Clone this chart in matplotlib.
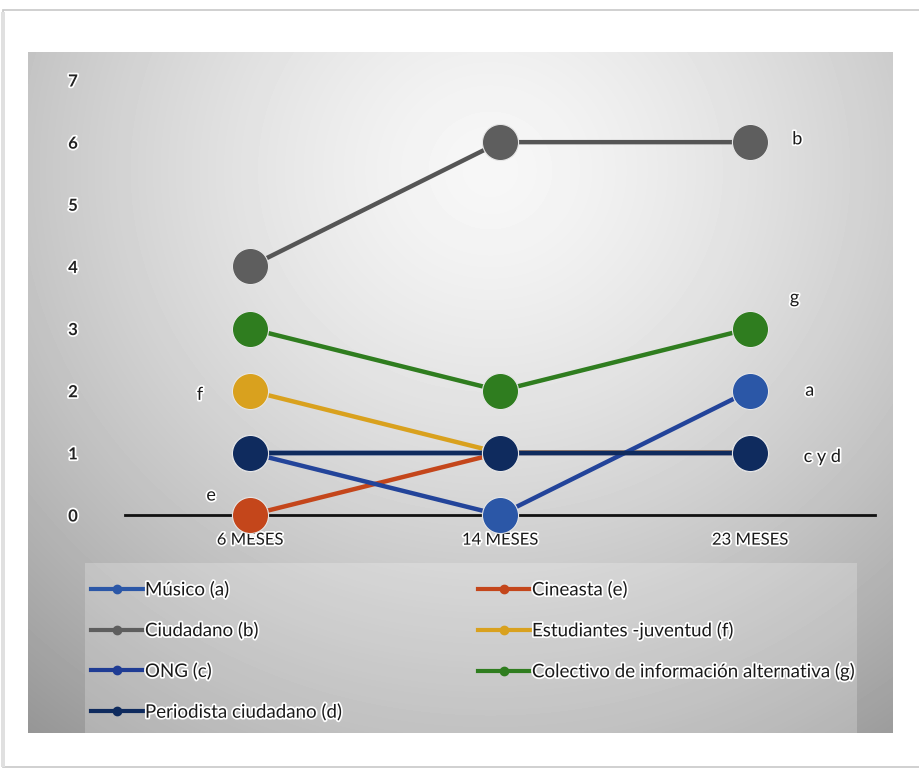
import numpy as np
import matplotlib.pyplot as plt
import matplotlib.patheffects as pe
from matplotlib.patches import Rectangle
from matplotlib.lines import Line2D

plt.rcParams['font.family'] = ['Lato', 'DejaVu Sans']

periodos = ['6 MESES', '14 MESES', '23 MESES']

musico = [1, 0, 2]
ciudadano = [4, 6, 6]
ong = [1, 1, 1]
periodista = [1, 1, 1]
cineasta = [0, 1, 1]
estudiantes = [2, 1, 1]
colectivo = [3, 2, 3]

nombres = ['Músico (a)', 'Ciudadano (b)', 'ONG (c)', 'Periodista ciudadano (d)',
           'Cineasta (e)', 'Estudiantes -juventud (f)',
           'Colectivo de información alternativa (g)']
series = [musico, ciudadano, ong, periodista, cineasta, estudiantes, colectivo]
colores = ['#2b57a7', '#5e5e5e', '#1f3c94', '#0f2b5e', '#c4461b', '#d9a11e', '#2f7d1f']
lineas = ['#23449a', '#555555', '#1f3c94', '#0f2b5e', '#c4461b', '#d9a11e', '#2f7d1f']
capas = [4, 3, 3.5, 5, 2, 2.1, 3]

# letras junto a los puntos: (serie, periodo, texto, dx, dy en puntos)
etiquetas = [(1, 2, 'b', 34, 2), (6, 2, 'g', 32, 22), (0, 2, 'a', 43, 0),
             (3, 2, 'c y d', 52, -3), (5, 0, 'f', -36, -3), (4, 0, 'e', -28, 14)]

W, H = 920, 770
fig = plt.figure(figsize=(W / 100, H / 100), dpi=100)
halo = [pe.withStroke(linewidth=2.5, foreground='white')]

# fondo: tarjeta blanca con panel gris en degradado
bg = fig.add_axes([0, 0, 1, 1], zorder=-10)
bg.add_patch(Rectangle((3, 10), W, 757, facecolor='white', edgecolor='#c8c8c8',
                       lw=1.2, zorder=1))
bg.add_patch(Rectangle((1, 12), 4, 755, facecolor='#e0e0e0', edgecolor='none', zorder=1))

px0, py0, px1, py1 = 28, 52, 893, 733
yy, xx = np.mgrid[py0:py1, px0:px1]
d = np.hypot(xx - 490, (yy - 170) * 1.05) / 720
val = np.clip(247 - 92 * d ** 1.4, 150, 250) / 255
bg.imshow(val, cmap='gray', vmin=0, vmax=1, extent=(px0, px1, py1, py0),
          interpolation='bilinear', aspect='auto', zorder=2)
bg.add_patch(Rectangle((85, 563), 772, py1 - 563, facecolor='white', alpha=0.22,
                       edgecolor='none', zorder=3))
bg.set_xlim(0, W)
bg.set_ylim(H, 0)
bg.axis('off')

# grafico de lineas
ax = fig.add_axes([125 / W, 1 - 515 / H, 750 / W, 435 / H])
ax.patch.set_alpha(0)
x = np.arange(len(periodos))
for vals, col, lcol, z in zip(series, colores, lineas, capas):
    ax.plot(x, vals, color=lcol, lw=3.2, zorder=z, clip_on=False)
    ax.plot(x, vals, ls='none', marker='o', ms=26, mfc=col,
            mec='#e6e6e6', mew=0.8, zorder=z + 0.01, clip_on=False)

ax.set_xlim(-0.5, 2.5)
ax.set_ylim(0, 7)
ax.set_yticks(range(8))
ax.set_xticks(x)
ax.set_xticklabels(periodos, fontsize=12, color='#1a1a1a')
for s in ['top', 'right', 'left']:
    ax.spines[s].set_visible(False)
ax.spines['bottom'].set_linewidth(2)
ax.spines['bottom'].set_color('#111111')
ax.spines['bottom'].set_zorder(1)
ax.tick_params(axis='y', length=0, pad=34, labelsize=12, labelcolor='#222222')
ax.tick_params(axis='x', length=0, pad=12)
for lab in ax.get_yticklabels():
    lab.set_fontweight('bold')
    lab.set_path_effects(halo)
for lab in ax.get_xticklabels():
    lab.set_path_effects(halo)

for si, pi, txt, dx, dy in etiquetas:
    ax.annotate(txt, (x[pi], series[si][pi]), xytext=(dx, dy), textcoords='offset points',
                ha='center', va='center', fontsize=13, color='#1a1a1a',
                path_effects=halo, zorder=10)

# leyenda en dos columnas
handles = [Line2D([], [], color=c, lw=3, marker='o', ms=6) for c in colores]
kw = dict(frameon=False, fontsize=13.5, handlelength=2.75, handletextpad=0.1,
          labelspacing=1.22, borderaxespad=0, labelcolor='#1a1a1a')
leg1 = fig.legend(handles[:4], nombres[:4], loc='upper left',
                  bbox_to_anchor=(84 / W, 1 - 573 / H), **kw)
leg2 = fig.legend(handles[4:], nombres[4:], loc='upper left',
                  bbox_to_anchor=(471 / W, 1 - 573 / H), **kw)
for leg in (leg1, leg2):
    for t in leg.get_texts():
        t.set_path_effects(halo)

fig.savefig('out.png', dpi=100)
